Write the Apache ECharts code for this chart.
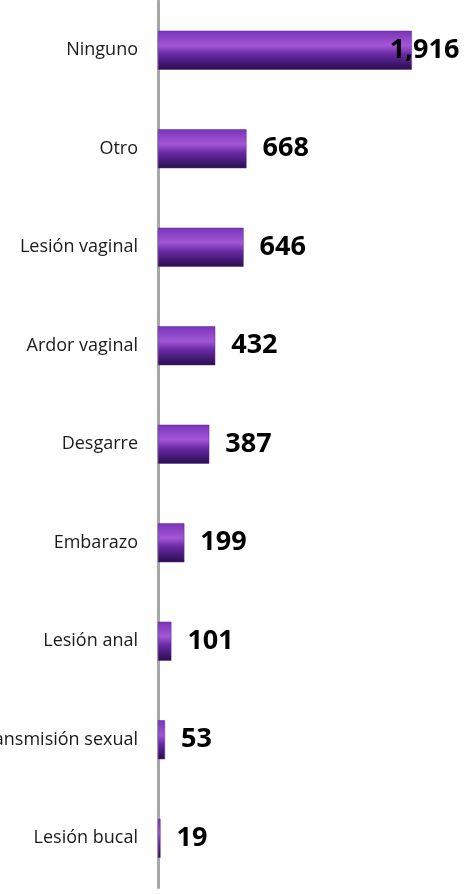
<!DOCTYPE html>
<html><head><meta charset="utf-8">
<script src="https://cdn.jsdelivr.net/npm/echarts@6/dist/echarts.min.js"></script>
<style>html,body{margin:0;padding:0;background:#fff}#c{width:475px;height:894px}</style>
</head><body><div id="c"></div>
<script>
const categories = ["Ninguno","Otro","Lesión vaginal","Ardor vaginal","Desgarre","Embarazo","Lesión anal","Infección de transmisión sexual","Lesión bucal"];
const values = [1916,668,646,432,387,199,101,53,19];

const chart = echarts.init(document.getElementById('c'));
const barColor = new echarts.graphic.LinearGradient(0,0,0,1,[
  {offset:0,color:'#7a34b8'},
  {offset:0.38,color:'#a257d6'},
  {offset:0.6,color:'#6a2aa4'},
  {offset:0.85,color:'#3f1870'},
  {offset:1,color:'#2a0f4a'}
]);
const data = values.map((v,i)=>{
  const item = {value:v};
  if (i===0) item.label = {offset:[-38,0]};
  return item;
});
chart.setOption({
  animation:false,
  grid:{left:158,right:52,top:1,bottom:6.5,containLabel:false,outerBoundsMode:'none'},
  xAxis:{type:'value',min:0,max:2000,show:false},
  yAxis:{type:'category',data:categories,inverse:true,
    axisLine:{show:true,lineStyle:{color:'#a6a6a6',width:3}},
    axisTick:{show:false},
    axisLabel:{fontFamily:'Open Sans',fontSize:18,color:'#1a1a1a',margin:20}
  },
  series:[{type:'bar',data:data,barWidth:39,
    itemStyle:{color:barColor,borderColor:'#5a2a8a',borderWidth:0.5},
    label:{show:true,position:'right',distance:16,fontFamily:'Open Sans',fontWeight:'bold',fontSize:27,color:'#000',
      formatter:p=>p.value.toLocaleString('en-US')}
  }]
});
</script></body></html>
